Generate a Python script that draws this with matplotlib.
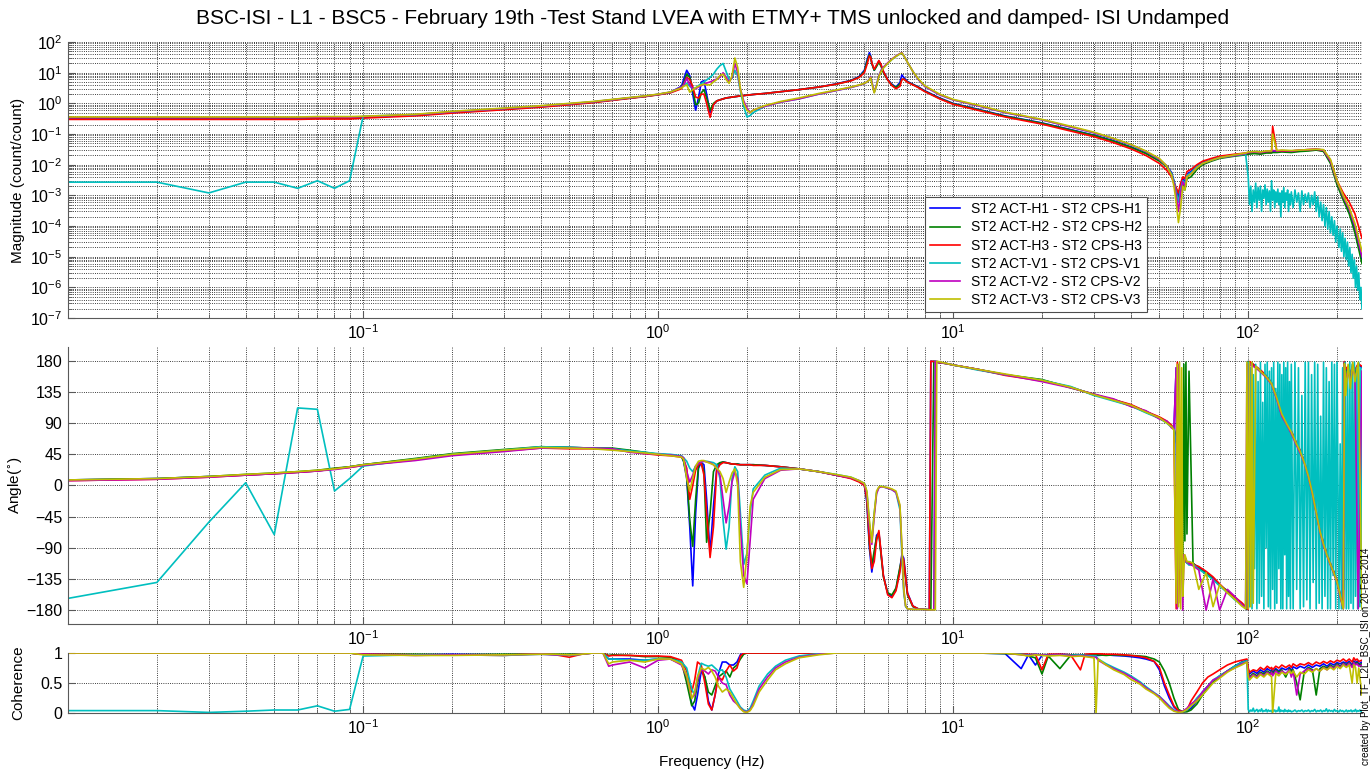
import numpy as np
import matplotlib.pyplot as plt
from matplotlib.ticker import LogLocator, NullFormatter

plt.rcParams['font.family'] = ['Liberation Sans', 'DejaVu Sans']

## frequency grids (Hz)
f_mag = [0.01, 0.02, 0.03, 0.04, 0.05, 0.06, 0.07, 0.08, 0.09, 0.1,
         0.15, 0.2, 0.3, 0.4, 0.5, 0.6, 0.7, 0.8, 0.9, 1.0, 1.1, 1.2,
         1.22, 1.25, 1.28, 1.31, 1.34, 1.37, 1.4, 1.43, 1.46, 1.5, 1.54, 1.58,
         1.62, 1.66, 1.7, 1.74, 1.78, 1.82, 1.86, 1.9, 1.95, 2.0, 2.05, 2.1,
         2.3, 2.6, 3.0, 3.5, 4.0, 4.5, 4.8, 5.0,
         5.1, 5.2, 5.25, 5.3, 5.4, 5.5, 5.6, 5.7, 5.8, 6.0, 6.2, 6.4, 6.6, 6.7, 6.8, 6.9, 7.0, 7.3, 7.6,
         8.0, 9.0, 10, 12, 15, 20, 25, 30, 35, 40, 45, 50, 53, 55,
         56, 57, 58, 59, 60, 61, 62, 64, 67, 70, 75, 80, 90, 98,
         100, 105, 110, 115, 120, 121, 125, 130, 140, 150, 160, 170, 180, 190, 200, 210, 220, 230, 243]

f_ph = [0.01, 0.02, 0.03, 0.04, 0.05, 0.06, 0.07, 0.08, 0.09, 0.1,
        0.15, 0.2, 0.3, 0.4, 0.5, 0.6, 0.7, 0.8, 0.9, 1.0, 1.1, 1.2,
        1.22, 1.25, 1.28, 1.31, 1.34, 1.37, 1.4, 1.43, 1.46, 1.5, 1.54, 1.58,
        1.62, 1.66, 1.7, 1.74, 1.78, 1.82, 1.86, 1.9, 1.95, 2.0, 2.05, 2.1,
        2.3, 2.6, 3.0, 3.5, 4.0, 4.5, 4.8, 5.0,
        5.1, 5.2, 5.3, 5.4, 5.5, 5.6, 5.7, 5.8, 6.0, 6.2, 6.4, 6.6, 6.7, 6.8, 6.9, 7.0, 7.3, 7.6, 8.0,
        8.3, 8.4, 8.6, 8.7, 8.8, 8.9, 9.5, 10, 12, 15, 20, 25, 30, 35, 40, 45, 50, 53, 55,
        56, 57, 57.5, 58, 58.5, 59, 59.5, 60, 60.5, 61, 61.5, 62, 63, 65, 68, 72, 76, 80, 85, 90, 95, 98,
        99, 100, 101, 102, 103, 104, 106, 110, 115, 120, 125, 130, 135, 140, 145, 150, 155, 160, 165, 170,
        175, 180, 185, 190, 195, 200, 205, 210, 212, 214, 218, 222, 226, 230, 236, 243]

f_coh = [0.01, 0.02, 0.03, 0.04, 0.05, 0.06, 0.07, 0.08, 0.09, 0.1,
         0.15, 0.2, 0.3, 0.4, 0.45, 0.5, 0.55, 0.6, 0.65, 0.68, 0.7, 0.8, 0.9, 1.0, 1.1, 1.2,
         1.25, 1.3, 1.33, 1.36, 1.4, 1.44, 1.48, 1.52, 1.56, 1.6, 1.65, 1.7, 1.75, 1.8,
         1.85, 1.9, 1.95, 2.0, 2.05, 2.1, 2.2, 2.35, 2.5, 2.7, 3.0, 3.5, 4.0,
         5, 6, 8, 10, 12, 15, 17, 18, 19, 20, 21, 23, 25, 27, 28, 30, 30.5, 31, 33, 35, 38, 40,
         43, 45, 48, 50, 52, 54, 56, 58, 60, 62, 64, 67, 70, 73, 76, 80, 85, 90, 95, 99,
         100, 101, 104, 107, 110, 113, 116, 119, 120, 121, 124, 127, 130, 134, 138, 140, 142, 146, 150,
         155, 160, 165, 170, 175, 180, 185, 190, 195, 200, 205, 210, 215, 220, 225, 228, 231, 234, 237, 243]

# V1 has no coherent signal above 100 Hz, its noisy part uses its own grid
f_hf = [100, 101, 102, 103, 104, 105, 106, 107, 108, 109,
        110, 111, 112, 113, 114, 115, 116, 117, 118, 119,
        120, 121, 122, 123, 124, 125, 126, 127, 128, 129,
        130, 131, 132, 133, 134, 135, 136, 137, 138, 139,
        140, 142, 144, 146, 148, 150, 152, 154, 156, 158,
        160, 162, 164, 166, 168, 170, 172, 174, 176, 178,
        180, 182, 184, 186, 188, 190, 192, 194, 196, 198,
        200, 203, 205, 207, 209, 211, 213, 215, 217, 219,
        221, 223, 225, 227, 229, 231, 233, 235, 237, 239,
        241, 243]

## magnitude (count/count)
mag_h1 = [0.33, 0.33, 0.33, 0.33, 0.33, 0.33, 0.34, 0.34, 0.34, 0.36,
          0.42, 0.52, 0.66, 0.8, 0.95, 1.1, 1.3, 1.5, 1.7, 1.95, 2.3, 3.6,
          6.0, 12.0, 8.0, 2.0, 0.6, 1.5, 5.0, 5.5, 2.0, 0.5, 0.9, 1.2,
          1.3, 1.4, 1.5, 1.55, 1.6, 1.65, 1.7, 1.75, 1.8, 1.85, 1.9, 1.95,
          2.1, 2.4, 2.8, 3.4, 4.3, 5.6, 7.5, 12,
          25, 45, 36, 20, 12, 17, 24, 17, 11, 6, 4.2, 3.4, 4.8, 8.5, 7, 6, 5.2, 4.2, 3.5,
          2.6, 1.5, 1.0, 0.66, 0.39, 0.23, 0.14, 0.092, 0.06, 0.038, 0.024, 0.014, 0.009, 0.0055,
          0.003, 0.0016, 0.0009, 0.002, 0.0035, 0.0028, 0.005, 0.006, 0.009, 0.012, 0.015, 0.018, 0.021, 0.023,
          0.024, 0.025, 0.024, 0.026, 0.026, 0.027, 0.027, 0.028, 0.027, 0.029, 0.03, 0.031, 0.028, 0.012,
          0.0025, 0.0008, 0.0003, 0.00008, 0.000008]
mag_h2 = [0.32, 0.32, 0.32, 0.32, 0.32, 0.32, 0.33, 0.33, 0.33, 0.35,
          0.41, 0.5, 0.65, 0.78, 0.93, 1.08, 1.28, 1.48, 1.68, 1.92, 2.25, 3.3,
          4.5, 9.0, 7.0, 3.0, 0.9, 1.0, 2.2, 2.8, 1.5, 0.6, 1.0, 1.2,
          1.3, 1.4, 1.5, 1.55, 1.6, 1.65, 1.7, 1.75, 1.8, 1.85, 1.9, 1.95,
          2.1, 2.4, 2.8, 3.4, 4.2, 5.5, 7.2, 11,
          22, 38, 33, 20, 12, 16, 22, 16, 10, 5.8, 4.0, 3.3, 4.2, 6.0, 6.2, 5.6, 5.0, 4.1, 3.4,
          2.5, 1.45, 0.97, 0.64, 0.38, 0.225, 0.135, 0.09, 0.058, 0.037, 0.023, 0.013, 0.0085, 0.005,
          0.0028, 0.0012, 0.0007, 0.0015, 0.0025, 0.0015, 0.0035, 0.004, 0.007, 0.01, 0.013, 0.016, 0.019, 0.021,
          0.022, 0.023, 0.022, 0.024, 0.024, 0.025, 0.025, 0.026, 0.025, 0.027, 0.028, 0.03, 0.027, 0.011,
          0.0022, 0.0007, 0.00025, 0.00006, 0.000006]
mag_h3 = [0.3, 0.3, 0.3, 0.3, 0.3, 0.3, 0.31, 0.31, 0.31, 0.33,
          0.39, 0.48, 0.62, 0.75, 0.9, 1.05, 1.25, 1.45, 1.65, 1.9, 2.2, 3.0,
          4.0, 7.0, 6.0, 3.5, 1.6, 1.5, 2.0, 2.0, 1.0, 0.35, 0.9, 1.2,
          1.3, 1.4, 1.5, 1.55, 1.6, 1.65, 1.7, 1.75, 1.8, 1.85, 1.9, 1.95,
          2.1, 2.4, 2.8, 3.4, 4.2, 5.4, 7.0, 10,
          18, 35, 32, 21, 13, 18, 25, 18, 11, 5.8, 3.8, 3.0, 3.6, 6.0, 6.2, 5.5, 4.9, 4.0, 3.3,
          2.45, 1.4, 0.93, 0.61, 0.36, 0.21, 0.125, 0.082, 0.052, 0.033, 0.02, 0.011, 0.0065, 0.004,
          0.0025, 0.0018, 0.0012, 0.0025, 0.004, 0.0035, 0.006, 0.007, 0.01, 0.013, 0.016, 0.019, 0.022, 0.024,
          0.025, 0.026, 0.025, 0.027, 0.027, 0.18, 0.028, 0.028, 0.028, 0.03, 0.031, 0.032, 0.03, 0.014,
          0.003, 0.0012, 0.0006, 0.00025, 0.00004]
mag_v1 = [0.0027, 0.0027, 0.0012, 0.0027, 0.0027, 0.0017, 0.003, 0.0017, 0.003, 0.38,
          0.43, 0.53, 0.68, 0.82, 0.97, 1.12, 1.32, 1.52, 1.72, 1.97, 2.3, 3.4,
          3.8, 4.5, 3.6, 3.0, 3.2, 3.8, 4.4, 5.0, 5.8, 7.0, 9.0, 13,
          17, 20, 11, 6.0, 6.5, 12, 8.0, 2.5, 0.8, 0.36, 0.4, 0.5,
          0.8, 1.1, 1.4, 2.0, 2.6, 3.3, 3.9, 4.4,
          5.0, 6.0, 7.5, 5.0, 2.3, 4.0, 8.0, 12, 15, 20, 27, 34, 41, 44, 36, 28, 22, 11, 6.2,
          3.6, 1.9, 1.3, 0.86, 0.5, 0.29, 0.17, 0.11, 0.07, 0.045, 0.027, 0.015, 0.009, 0.005,
          0.0028, 0.0013, 0.0006, 0.0016, 0.003, 0.0025, 0.0045, 0.0055, 0.0085, 0.011, 0.014, 0.017, 0.02, 0.022]
mag_v2 = [0.34, 0.34, 0.34, 0.34, 0.34, 0.34, 0.35, 0.35, 0.35, 0.37,
          0.43, 0.53, 0.68, 0.82, 0.97, 1.12, 1.32, 1.52, 1.72, 1.97, 2.3, 3.4,
          4.0, 6.5, 4.0, 3.0, 3.0, 3.4, 3.8, 4.2, 4.6, 5.0, 5.6, 6.2,
          7.0, 10, 7.0, 5.0, 7.0, 20, 10, 3.0, 1.2, 0.7, 0.5, 0.6,
          0.8, 1.1, 1.4, 2.0, 2.6, 3.3, 3.9, 4.4,
          5.0, 6.0, 7.5, 5.0, 2.3, 4.0, 8.0, 12, 15, 21, 28, 35, 42, 45, 36, 28, 22, 11, 6.2,
          3.6, 1.9, 1.3, 0.86, 0.5, 0.29, 0.17, 0.11, 0.07, 0.045, 0.027, 0.015, 0.009, 0.0045,
          0.0025, 0.001, 0.0003, 0.0012, 0.0028, 0.002, 0.004, 0.005, 0.008, 0.011, 0.014, 0.017, 0.02, 0.023,
          0.025, 0.026, 0.025, 0.027, 0.028, 0.029, 0.028, 0.029, 0.028, 0.03, 0.031, 0.032, 0.03, 0.013,
          0.0028, 0.0009, 0.00035, 0.0001, 0.00001]
mag_v3 = [0.36, 0.36, 0.36, 0.36, 0.36, 0.36, 0.37, 0.37, 0.37, 0.38,
          0.44, 0.55, 0.7, 0.84, 1.0, 1.15, 1.35, 1.55, 1.75, 2.0, 2.35, 3.2,
          3.6, 4.0, 2.3, 2.8, 3.2, 3.6, 4.0, 4.2, 4.0, 4.0, 5.0, 6.0,
          8.0, 9.0, 6.0, 4.5, 8.0, 30, 15, 3.0, 1.0, 0.6, 0.5, 0.6,
          0.85, 1.15, 1.5, 2.1, 2.7, 3.4, 4.0, 4.5,
          5.0, 5.8, 7.0, 4.5, 2.2, 3.8, 7.5, 11, 14, 20, 27, 34, 41, 44, 36, 28, 22, 11, 6.5,
          3.8, 2.0, 1.35, 0.9, 0.52, 0.3, 0.18, 0.115, 0.072, 0.046, 0.028, 0.016, 0.009, 0.0045,
          0.002, 0.0006, 0.00013, 0.0004, 0.002, 0.0015, 0.004, 0.005, 0.008, 0.011, 0.014, 0.017, 0.021, 0.024,
          0.026, 0.027, 0.026, 0.028, 0.028, 0.1, 0.029, 0.03, 0.029, 0.03, 0.031, 0.032, 0.031, 0.015,
          0.003, 0.001, 0.0004, 0.00012, 0.000015]
mag_v1_hf = [4e-3, 5e-4, 2e-3, 3e-4, 1.5e-3, 6e-4, 2.5e-3, 4e-4, 1.8e-3, 7e-4,
             2e-3, 3e-4, 1.5e-3, 8e-4, 2.2e-3, 5e-4, 1.6e-3, 6e-4, 1.4e-3, 3e-4,
             3e-3, 7e-4, 1.5e-3, 4e-4, 1.3e-3, 6e-4, 1.6e-3, 5e-4, 1.2e-3, 2e-4,
             1.4e-3, 6e-4, 1.8e-3, 4e-4, 1.2e-3, 7e-4, 1.5e-3, 3e-4, 1.1e-3, 5e-4,
             1.3e-3, 4e-4, 1.5e-3, 6e-4, 1.2e-3, 3e-4, 1.4e-3, 5e-4, 1.1e-3, 6e-4,
             1.2e-3, 4e-4, 1.0e-3, 5e-4, 1.3e-3, 3e-4, 9e-4, 2e-4, 6e-4, 1.5e-4,
             5e-4, 1e-4, 4e-4, 8e-5, 3e-4, 6e-5, 2e-4, 5e-5, 1.5e-4, 3e-5,
             1e-4, 2e-5, 8e-5, 1.5e-5, 6e-5, 1e-5, 4e-5, 8e-6, 3e-5, 5e-6,
             2e-5, 3e-6, 1.2e-5, 2e-6, 8e-6, 1e-6, 5e-6, 8e-7, 3e-6, 4e-7,
             1e-6, 2e-7]

## phase (deg)
ph_h1 = [8, 10, 13, 15, 17, 19, 21, 24, 27, 30,
         38, 45, 51, 55, 55, 54, 53, 50, 47, 45, 44, 42,
         35, 10, -60, -145, -40, 25, 33, 30, -20, -98, -30, 25,
         32, 34, 33, 32, 31, 31, 31, 30, 30, 30, 30, 30,
         29, 27, 24, 20, 15, 11, 6, 1,
         -25, -90, -125, -100, -72, -68, -100, -130, -156, -160, -150, -120, -100, -105, -130, -155, -174, -178, -179,
         -179.5, 179.5, 179, 178.5, 178, 177.5, 176, 174, 168, 160, 152, 142, 131, 124, 116, 107, 98, 92, 86,
         82, 170, -175, -120, -100, -105, -100, -108, -110, -105, -110, -112, -110, -113, -118, -126, -134, -143,
         -153, -162, -170, -176,
         -179, 179, 178, 177, 176, 175, 172, 166, 158, 148, 127, 104, 90, 78, 63, 50, 34, 14, -10, -38,
         -65, -84, -100, -113, -125, -138, -158, -177, 178, 165, 170, 160, 172, 165, 175, 170]
ph_h2 = [8, 10, 13, 16, 18, 20, 22, 25, 27, 30,
         39, 46, 52, 56, 55, 54, 54, 51, 48, 45, 44, 42,
         35, 15, -50, -88, -20, 28, 33, 20, -82, -40, 20, 30,
         33, 34, 33, 32, 31, 31, 31, 30, 30, 30, 30, 30,
         29, 27, 24, 20, 15, 11, 6, 1,
         -20, -85, -115, -95, -75, -70, -102, -132, -155, -158, -148, -118, -105, -110, -135, -158, -175, -178, -179,
         -179.5, -179.5, 179.5, 179, 178.5, 178, 176, 174, 168, 160, 153, 141, 132, 123, 115, 106, 97, 91, 85,
         82, 70, 60, 40, -60, -100, -110, -100, 175, -80, 178, -70, 165, -112, -120, -127, -135, -144,
         -152, -163, -171, -177,
         -179, 179, 178, 177, 176, 174, 171, 165, 157, 146, 125, 102, 88, 76, 62, 48, 33, 12, -12, -40,
         -66, -86, -101, -114, -126, -139, -160, -178, 177, 160, 168, 158, 170, 162, 172, -175]
ph_h3 = [7, 9, 12, 15, 17, 19, 21, 24, 26, 29,
         37, 44, 50, 54, 53, 53, 52, 49, 46, 44, 43, 41,
         38, 25, -20, 0, 22, 30, 32, 15, -40, -104, -60, 22,
         30, 33, 33, 32, 31, 31, 30, 30, 30, 30, 30, 29,
         29, 27, 24, 20, 15, 10, 5, 0,
         -20, -80, -120, -110, -80, -65, -98, -130, -158, -162, -152, -125, -102, -108, -132, -156, -174, -178, -179,
         -179.5, 179.5, 179, 178.5, 178, 177.5, 176, 174, 168, 159, 151, 142, 131, 124, 117, 107, 99, 93, 87,
         80, -178, 178, -170, -100, -110, -100, -105, -108, -110, -106, -112, -112, -114, -117, -124, -132, -142,
         -154, -161, -169, -175,
         -178, -179, 179, 178, 176, 175, 172, 167, 159, 149, 128, 105, 91, 79, 64, 51, 35, 15, -9, -36,
         -63, -82, -98, -112, -124, -137, -157, -176, 179, 168, 172, 162, 174, 167, 176, 172]
ph_v1 = [-163, -140, -53, 4, -71, 112, 110, -8, 10, 28,
         38, 45, 51, 56, 55, 54, 53, 50, 48, 46, 45, 43,
         40, 35, 25, 20, 28, 32, 34, 35, 35, 34, 33, 30,
         10, -50, -92, -60, 10, 27, 20, -40, -114, -98, -40, -5,
         15, 25, 24, 20, 16, 12, 7, 3,
         -10, -55, -80, -40, -10, -3, -1, -2, -4, -6, -10, -35, -100, -155, -175, -178, -179, -179, -179,
         -179.5, -179.5, -179.5, 179.5, 179, 178.5, 176, 174, 167, 160, 152, 143, 130, 122, 115, 105, 97, 90, 84,
         84, 60, -90, -110, -105, -110, -108, -110, -112, -108, -110, -112, -115, -114, -121, -128, -136, -145,
         -155, -165, -172, -178]
ph_v2 = [7, 9, 12, 15, 17, 19, 21, 23, 26, 29,
         36, 43, 49, 54, 54, 54, 53, 48, 46, 45, 44, 42,
         40, 20, 5, 15, 28, 32, 34, 35, 34, 33, 30, 25,
         15, -20, -54, -30, 5, 20, 10, -60, -130, -142, -80, -20,
         10, 22, 24, 20, 15, 11, 7, 2,
         -12, -60, -85, -45, -12, -3, -2, -2, -4, -6, -10, -30, -90, -150, -174, -178, -179, -179, -179,
         -179.5, -179.5, -179.5, 179.5, 179, 178.5, 176, 174, 168, 160, 150, 141, 132, 125, 114, 108, 96, 93, 83,
         82, 170, -178, 175, -120, -100, -110, -180, -100, -108, -110, -110, -113, -116, -122, -180, -135, -180,
         -150, -160, -172, -176,
         175, -178, 176, 174, 173, 172, 170, 164, 156, 146, 124, 100, 88, 75, 60, 47, 32, 12, -12, -40,
         -67, -87, -102, -115, -127, -140, -161, -178, 175, 155, 165, 150, 168, 160, -178, 165]
ph_v3 = [8, 10, 13, 16, 18, 20, 22, 24, 27, 30,
         38, 45, 51, 55, 54, 53, 51, 49, 47, 45, 43, 41,
         38, 10, -8, 10, 28, 35, 36, 36, 34, 32, 30, 25,
         20, 10, -10, 5, 18, 24, 0, -110, -147, -100, -30, -10,
         12, 23, 24, 20, 16, 12, 7, 3,
         -8, -50, -82, -40, -8, -2, -1, -2, -3, -5, -8, -28, -85, -150, -174, -178, -179, -179, -179,
         -179.5, -179.5, -179.5, -179.5, 179.5, 179, 176, 174, 168, 161, 152, 142, 131, 123, 116, 106, 98, 90, 85,
         80, -170, 175, -175, 178, -178, 170, -160, -120, -100, -105, -110, -110, -112, -150, -126, -175, -143,
         -155, -164, -174, -178,
         178, -178, 178, -175, 178, -170, 172, 165, 157, 147, 126, 103, 89, 77, 62, 49, 33, 13, -11, -39,
         -66, -85, -101, -114, -126, -139, -159, -178, 176, 130, 175, 140, 178, 150, 178, -178]
ph_v1_hf = [178, -175, 170, -178, 160, -120, 175, -178, 150, -170,
            178, -160, 120, -178, 175, -90, 178, -175, 165, -178,
            170, -150, 178, -178, 140, -170, 178, -120, 175, -178,
            160, -178, 178, -100, 170, -178, 178, -160, 150, -178,
            175, -178, 178, -150, 170, -178, 130, -175, 178, -165,
            178, -178, 160, -140, 178, -178, 175, -170, 100, -178,
            178, -160, 170, -178, 150, -178, 178, -130, 175, -178,
            178, -178, 60, -178, 170, -150, 178, -178, 165, -178,
            178, -170, 175, -178, 178, -160, 170, -178, 178, -175,
            170, -178]

## coherence
coh_h1 = [1, 1, 1, 1, 1, 1, 1, 1, 1, 0.98,
          0.97, 0.98, 0.97, 0.99, 0.98, 0.97, 0.99, 1.0, 1.0, 0.9, 0.9, 0.9, 0.88, 0.9, 0.9, 0.82,
          0.6, 0.15, 0.05, 0.3, 0.7, 0.6, 0.2, 0.05, 0.3, 0.65, 0.85, 0.85, 0.8, 0.8,
          0.85, 0.97, 1.0, 1.0, 1.0, 1.0, 1.0, 1.0, 1.0, 1.0, 1.0, 1.0, 1.0,
          1, 1, 1, 1, 1, 0.99, 0.74, 0.97, 0.8, 0.96, 0.97, 0.98, 0.97, 0.96, 0.97, 0.97, 0.97, 0.96, 0.97, 0.96, 0.95,
          0.94, 0.92, 0.9, 0.86, 0.72, 0.45, 0.25, 0.1, 0.03, 0.02, 0.03, 0.08, 0.2, 0.35, 0.45, 0.52, 0.6, 0.7, 0.78,
          0.85, 0.88,
          0.72, 0.65, 0.7, 0.66, 0.72, 0.68, 0.74, 0.7, 0.72, 0.68, 0.74, 0.7, 0.75, 0.72, 0.76, 0.7, 0.77, 0.74, 0.78,
          0.75, 0.8, 0.76, 0.8, 0.78, 0.82, 0.78, 0.83, 0.8, 0.84, 0.82, 0.85, 0.83, 0.86, 0.8, 0.87, 0.84, 0.86, 0.82,
          0.85]
coh_h2 = [1, 1, 1, 1, 1, 1, 1, 1, 1, 0.98,
          0.98, 0.97, 0.98, 0.99, 0.98, 0.98, 0.99, 1.0, 1.0, 0.96, 0.97, 0.96, 0.94, 0.94, 0.93, 0.85,
          0.5, 0.12, 0.2, 0.5, 0.75, 0.6, 0.35, 0.3, 0.45, 0.6, 0.65, 0.7, 0.6, 0.75,
          0.8, 0.9, 0.98, 1.0, 1.0, 1.0, 1.0, 1.0, 1.0, 1.0, 1.0, 1.0, 1.0,
          1, 1, 1, 1, 1, 0.99, 0.98, 0.95, 0.92, 0.65, 0.95, 0.74, 0.96, 0.97, 0.96, 0.97, 0.97, 0.97, 0.96, 0.97, 0.96,
          0.96, 0.95, 0.94, 0.9, 0.85, 0.7, 0.5, 0.25, 0.06, 0.02, 0.02, 0.05, 0.15, 0.3, 0.42, 0.52, 0.62, 0.7, 0.78,
          0.84, 0.87,
          0.68, 0.6, 0.66, 0.62, 0.68, 0.65, 0.7, 0.66, 0.7, 0.65, 0.72, 0.68, 0.72, 0.6, 0.74, 0.7, 0.72, 0.5, 0.22,
          0.7, 0.76, 0.72, 0.3, 0.74, 0.78, 0.75, 0.8, 0.76, 0.82, 0.78, 0.83, 0.8, 0.84, 0.78, 0.85, 0.82, 0.84, 0.8,
          0.82]
coh_h3 = [1, 1, 1, 1, 1, 1, 1, 1, 1, 0.98,
          0.97, 0.97, 0.96, 0.99, 0.97, 0.93, 0.98, 1.0, 1.0, 0.95, 0.96, 0.96, 0.95, 0.95, 0.94, 0.88,
          0.7, 0.35, 0.55, 0.85, 0.8, 0.5, 0.15, 0.05, 0.3, 0.6, 0.55, 0.7, 0.8, 0.7,
          0.75, 0.95, 1.0, 1.0, 1.0, 1.0, 1.0, 1.0, 1.0, 1.0, 1.0, 1.0, 1.0,
          1, 1, 1, 1, 1, 1, 1, 0.98, 0.98, 0.72, 0.98, 0.98, 0.97, 0.72, 0.98, 0.99, 0.99, 0.99, 0.98, 0.98, 0.97,
          0.96, 0.94, 0.92, 0.86, 0.76, 0.5, 0.3, 0.12, 0.04, 0.02, 0.05, 0.2, 0.35, 0.5, 0.6, 0.65, 0.72, 0.8, 0.85,
          0.88, 0.9,
          0.75, 0.68, 0.72, 0.7, 0.76, 0.72, 0.78, 0.74, 0.76, 0.72, 0.78, 0.75, 0.8, 0.76, 0.8, 0.76, 0.82, 0.78, 0.82,
          0.8, 0.84, 0.8, 0.85, 0.82, 0.86, 0.83, 0.87, 0.84, 0.88, 0.86, 0.9, 0.86, 0.9, 0.85, 0.92, 0.88, 0.9, 0.86,
          0.88]
coh_v1 = [0.04, 0.04, 0.01, 0.03, 0.05, 0.05, 0.12, 0.03, 0.06, 0.95,
          0.97, 0.97, 0.96, 0.98, 0.97, 0.96, 0.98, 1.0, 1.0, 0.9, 0.9, 0.88, 0.88, 0.9, 0.9, 0.85,
          0.75, 0.4, 0.3, 0.6, 0.83, 0.8, 0.78, 0.8, 0.75, 0.7, 0.72, 0.6, 0.4, 0.3,
          0.2, 0.1, 0.05, 0.03, 0.08, 0.2, 0.45, 0.65, 0.78, 0.88, 0.95, 0.99, 1.0,
          1, 1, 1, 1, 1, 1, 0.98, 0.97, 0.98, 0.97, 0.96, 0.97, 0.96, 0.97, 0.96, 0.95, 0.95, 0.9, 0.82, 0.76, 0.68,
          0.62, 0.52, 0.44, 0.34, 0.28, 0.2, 0.12, 0.05, 0.02, 0.02, 0.05, 0.12, 0.25, 0.35, 0.45, 0.55, 0.62, 0.7,
          0.78, 0.84, 0.87]
coh_v2 = [1, 1, 1, 1, 1, 1, 1, 1, 1, 0.98,
          0.96, 0.97, 0.97, 0.98, 0.97, 0.97, 0.98, 1.0, 1.0, 0.78, 0.8, 0.85, 0.75, 0.88, 0.9, 0.8,
          0.6, 0.25, 0.3, 0.55, 0.72, 0.7, 0.65, 0.72, 0.7, 0.6, 0.5, 0.47, 0.3, 0.2,
          0.15, 0.08, 0.03, 0.02, 0.05, 0.15, 0.4, 0.6, 0.75, 0.85, 0.93, 0.98, 1.0,
          1, 1, 1, 1, 1, 1, 0.97, 0.96, 0.98, 0.97, 0.96, 0.97, 0.95, 0.96, 0.95, 0.93, 0.93, 0.88, 0.8, 0.74, 0.66,
          0.6, 0.5, 0.42, 0.33, 0.27, 0.19, 0.1, 0.04, 0.02, 0.03, 0.08, 0.15, 0.22, 0.35, 0.45, 0.55, 0.6, 0.7,
          0.75, 0.82, 0.85,
          0.65, 0.58, 0.64, 0.6, 0.66, 0.62, 0.68, 0.64, 0.68, 0.62, 0.7, 0.65, 0.7, 0.66, 0.72, 0.6, 0.7, 0.3, 0.65,
          0.7, 0.74, 0.7, 0.74, 0.7, 0.76, 0.72, 0.78, 0.74, 0.8, 0.76, 0.82, 0.78, 0.83, 0.76, 0.84, 0.8, 0.82, 0.78,
          0.8]
coh_v3 = [1, 1, 1, 1, 1, 1, 1, 1, 1, 0.97,
          0.96, 0.96, 0.97, 0.98, 0.98, 0.97, 0.98, 1.0, 1.0, 0.82, 0.85, 0.88, 0.85, 0.9, 0.9, 0.82,
          0.62, 0.24, 0.35, 0.6, 0.75, 0.72, 0.76, 0.7, 0.6, 0.45, 0.35, 0.4, 0.35, 0.25,
          0.15, 0.07, 0.02, 0.01, 0.04, 0.12, 0.35, 0.55, 0.72, 0.82, 0.92, 0.97, 1.0,
          1, 1, 1, 1, 1, 1, 0.97, 0.95, 0.97, 0.96, 0.95, 0.96, 0.94, 0.95, 0.94, 0.92, 0.0, 0.9, 0.8, 0.72, 0.64,
          0.56, 0.48, 0.4, 0.32, 0.25, 0.16, 0.08, 0.03, 0.01, 0.02, 0.06, 0.12, 0.2, 0.3, 0.4, 0.5, 0.58, 0.68,
          0.75, 0.8, 0.85,
          0.6, 0.55, 0.62, 0.58, 0.64, 0.6, 0.66, 0.62, 0.6, 0.0, 0.66, 0.62, 0.68, 0.64, 0.7, 0.66, 0.7, 0.6, 0.68,
          0.65, 0.72, 0.68, 0.74, 0.7, 0.75, 0.72, 0.76, 0.72, 0.78, 0.74, 0.8, 0.76, 0.8, 0.5, 0.8, 0.76, 0.5, 0.75,
          0.3]
coh_v1_hf = [0.06, 0.02, 0.05, 0.03, 0.08, 0.02, 0.04, 0.06, 0.02, 0.05,
             0.03, 0.07, 0.02, 0.04, 0.03, 0.06, 0.02, 0.05, 0.03, 0.04,
             0.02, 0.06, 0.03, 0.05, 0.02, 0.04, 0.03, 0.1, 0.02, 0.05,
             0.03, 0.04, 0.02, 0.06, 0.03, 0.04, 0.02, 0.05, 0.03, 0.04,
             0.02, 0.03, 0.05, 0.02, 0.04, 0.03, 0.05, 0.02, 0.04, 0.03,
             0.05, 0.02, 0.04, 0.03, 0.06, 0.02, 0.04, 0.03, 0.05, 0.02,
             0.04, 0.03, 0.07, 0.02, 0.05, 0.03, 0.04, 0.02, 0.06, 0.03,
             0.04, 0.02, 0.05, 0.03, 0.04, 0.02, 0.03, 0.05, 0.02, 0.04,
             0.03, 0.05, 0.02, 0.04, 0.03, 0.06, 0.02, 0.04, 0.03, 0.05,
             0.02, 0.04]

labels = ['ST2 ACT-H1 - ST2 CPS-H1', 'ST2 ACT-H2 - ST2 CPS-H2', 'ST2 ACT-H3 - ST2 CPS-H3',
          'ST2 ACT-V1 - ST2 CPS-V1', 'ST2 ACT-V2 - ST2 CPS-V2', 'ST2 ACT-V3 - ST2 CPS-V3']
colors = ['#0000ff', '#008000', '#ff0000', '#00bfbf', '#bf00bf', '#bfbf00']

mags = [mag_h1, mag_h2, mag_h3, mag_v1, mag_v2, mag_v3]
phases = [ph_h1, ph_h2, ph_h3, ph_v1, ph_v2, ph_v3]
cohs = [coh_h1, coh_h2, coh_h3, coh_v1, coh_v2, coh_v3]
v1_hf = [mag_v1_hf, ph_v1_hf, coh_v1_hf]


def series(f, vals, hf=None):
    # V1 lists stop at 100 Hz and continue on the dense grid
    f = np.asarray(f, dtype=float)[:len(vals)]
    vals = np.asarray(vals, dtype=float)
    if hf is not None:
        f = np.concatenate((f, f_hf))
        vals = np.concatenate((vals, hf))
    return f, vals


def style_axis(ax, ygrid_minor):
    ax.set_xscale('log')
    ax.set_xlim(0.01, 243)
    ax.set_xticks([0.1, 1, 10, 100])
    ax.xaxis.set_minor_locator(LogLocator(base=10, subs=np.arange(2, 10), numticks=100))
    ax.xaxis.set_minor_formatter(NullFormatter())
    ax.grid(True, which='major', linestyle=':', color='k', linewidth=0.6)
    ax.grid(True, which='minor', axis='x', linestyle=':', color='k', linewidth=0.6)
    if ygrid_minor:
        ax.grid(True, which='minor', axis='y', linestyle=':', color='k', linewidth=0.6)
    for s in ['top', 'right']:
        ax.spines[s].set_visible(False)
    for s in ['left', 'bottom']:
        ax.spines[s].set_color('0.35')
    ax.tick_params(which='both', direction='in', labelsize=11.5, pad=4, colors='0.35', labelcolor='k')
    ax.tick_params(which='major', length=5)
    ax.tick_params(which='minor', length=3)


fig = plt.figure(figsize=(13.72, 7.74), dpi=100)
ax1 = fig.add_axes([0.0496, 0.5891, 0.9431, 0.3566])
ax2 = fig.add_axes([0.0496, 0.1938, 0.9431, 0.3579])
ax3 = fig.add_axes([0.0496, 0.0788, 0.9431, 0.0775])

## magnitude
ax1.set_yscale('log')
for i in range(6):
    hf = v1_hf[0] if i == 3 else None
    f, v = series(f_mag, mags[i], hf)
    ax1.plot(f, v, color=colors[i], lw=1.2, label=labels[i])
ax1.set_ylim(1e-7, 1e2)
ax1.set_yticks([1e-7, 1e-6, 1e-5, 1e-4, 1e-3, 1e-2, 1e-1, 1e0, 1e1, 1e2])
ax1.yaxis.set_minor_locator(LogLocator(base=10, subs=np.arange(2, 10), numticks=100))
ax1.yaxis.set_minor_formatter(NullFormatter())
style_axis(ax1, True)
ax1.set_ylabel('Magnitude (count/count)', fontsize=11)
ax1.yaxis.set_label_coords(-0.033, 0.5)
leg = ax1.legend(loc='lower right', bbox_to_anchor=(0.834, 0.022), fontsize=10, fancybox=False,
                 edgecolor='0.3', framealpha=1, borderaxespad=0, handlelength=2.2,
                 labelspacing=0.3, borderpad=0.35)
leg.get_frame().set_linewidth(0.8)

## phase
for i in range(6):
    hf = v1_hf[1] if i == 3 else None
    f, v = series(f_ph, phases[i], hf)
    ax2.plot(f, v, color=colors[i], lw=1.2)
ax2.set_ylim(-200, 200)
ax2.set_yticks(np.arange(-180, 181, 45))
style_axis(ax2, False)
ax2.set_ylabel('Angle($^{\\circ}$)', fontsize=11)
ax2.yaxis.set_label_coords(-0.033, 0.5)

## coherence
for i in range(6):
    hf = v1_hf[2] if i == 3 else None
    f, v = series(f_coh, cohs[i], hf)
    ax3.plot(f, v, color=colors[i], lw=1.2)
ax3.set_ylim(0, 1)
ax3.set_yticks([0, 0.5, 1])
ax3.set_yticklabels(['0', '0.5', '1'])
style_axis(ax3, False)
ax3.set_ylabel('Coherence', fontsize=11)
ax3.yaxis.set_label_coords(-0.033, 0.5)

fig.text(0.5197, 0.9767, 'BSC-ISI - L1 - BSC5 - February 19th -Test Stand LVEA with ETMY+ TMS unlocked and damped- ISI Undamped',
         ha='center', va='center', fontsize=15)
fig.text(0.519, 1 - 762 / 774, 'Frequency (Hz)', ha='center', va='center', fontsize=11)
fig.text(0.9956, 0.152, 'created by Plot_TF_L2L_BSC_ISI on 20-Feb-2014', rotation=90,
         ha='center', va='center', fontsize=7)

fig.savefig('out.png', dpi=100)
